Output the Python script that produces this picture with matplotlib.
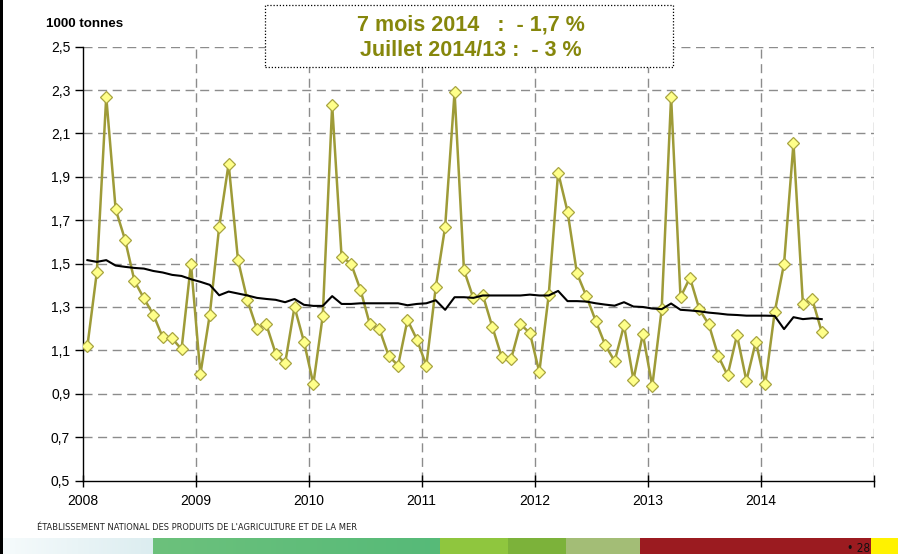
import numpy as np
import matplotlib
matplotlib.use("Agg")
import matplotlib.pyplot as plt
from matplotlib.patches import Rectangle
from matplotlib.colors import LinearSegmentedColormap

plt.rcParams['font.family'] = ['Liberation Sans', 'DejaVu Sans']

# ---- data (1000 tonnes, monthly from Jan 2008 to Jul 2014) ----
start_year = 2008
production = [1.12, 1.46, 2.27, 1.75, 1.61, 1.42, 1.34, 1.265, 1.16, 1.155, 1.105, 1.50,
              0.99, 1.265, 1.67, 1.96, 1.515, 1.33, 1.20, 1.22, 1.085, 1.04, 1.30, 1.14,
              0.945, 1.26, 2.23, 1.53, 1.50, 1.38, 1.22, 1.20, 1.075, 1.03, 1.24, 1.15,
              1.03, 1.39, 1.67, 2.29, 1.47, 1.34, 1.355, 1.21, 1.07, 1.06, 1.22, 1.18,
              1.00, 1.355, 1.92, 1.74, 1.455, 1.35, 1.235, 1.125, 1.05, 1.215, 0.965, 1.175,
              0.935, 1.29, 2.27, 1.345, 1.435, 1.29, 1.22, 1.075, 0.985, 1.17, 0.96, 1.14,
              0.945, 1.275, 1.50, 2.055, 1.315, 1.335, 1.185]
moving_avg = [1.516, 1.508, 1.516, 1.491, 1.485, 1.48, 1.477, 1.466, 1.459, 1.448, 1.443, 1.428,
              1.416, 1.402, 1.354, 1.371, 1.362, 1.353, 1.342, 1.337, 1.333, 1.322, 1.337, 1.31,
              1.305, 1.305, 1.35, 1.314, 1.314, 1.317, 1.317, 1.317, 1.317, 1.317, 1.308, 1.314,
              1.317, 1.331, 1.287, 1.345, 1.345, 1.342, 1.353, 1.353, 1.353, 1.353, 1.353, 1.357,
              1.353, 1.353, 1.374, 1.327, 1.327, 1.325, 1.317, 1.311, 1.306, 1.322, 1.302, 1.300,
              1.293, 1.29, 1.316, 1.287, 1.284, 1.28, 1.274, 1.27, 1.265, 1.263, 1.26, 1.26,
              1.26, 1.259, 1.198, 1.253, 1.244, 1.248, 1.244]
year_ticks = [2008, 2009, 2010, 2011, 2012, 2013, 2014, 2015]
year_labels = ['2008', '2009', '2010', '2011', '2012', '2013', '2014', '']
y_ticks = [0.5, 0.7, 0.9, 1.1, 1.3, 1.5, 1.7, 1.9, 2.1, 2.3, 2.5]
y_labels = ['0,5', '0,7', '0,9', '1,1', '1,3', '1,5', '1,7', '1,9', '2,1', '2,3', '2,5']
title_lines = ['7 mois 2014   :  - 1,7 %', 'Juillet 2014/13 :  - 3 %']
unit_label = '1000 tonnes'
footer_text = "ÉTABLISSEMENT NATIONAL DES PRODUITS DE L'AGRICULTURE ET DE LA MER"
page_num = '• 28'

x = start_year + (np.arange(len(production)) + 0.5) / 12.0

W, H = 898, 554
fig = plt.figure(figsize=(W / 100, H / 100), dpi=100)
fig.patch.set_facecolor('white')

ax = fig.add_axes([82.7 / W, 1 - 480.5 / H, (873.5 - 82.7) / W, (480.5 - 46.7) / H])
ax.set_xlim(2008, 2015)
ax.set_ylim(0.5, 2.5)

grid_kw = dict(color='#8c8c8c', lw=1.0, dashes=(6.5, 4), zorder=1)
for yt in y_ticks[1:]:
    ax.axhline(yt, **grid_kw)
for xt in year_ticks[1:]:
    ax.axvline(xt, **grid_kw)

ax.plot(x, production, color='#9e9b38', lw=1.8, marker='D', markersize=6.5,
        markerfacecolor='#ffff8a', markeredgecolor='#a8a440', markeredgewidth=0.9, zorder=3)
ax.plot(x, moving_avg, color='black', lw=1.5, zorder=4)

for s in ['top', 'right']:
    ax.spines[s].set_visible(False)
for s in ['left', 'bottom']:
    ax.spines[s].set_color('black')
    ax.spines[s].set_linewidth(1.0)

ax.set_yticks(y_ticks)
ax.set_yticklabels(y_labels, fontsize=10)
ax.set_xticks(year_ticks)
ax.set_xticklabels(year_labels, fontsize=10)
ax.tick_params(axis='y', direction='out', length=6, width=1, pad=3)
ax.tick_params(axis='x', direction='inout', length=8, width=1, pad=6)

# unit label
fig.text(46 / W, 1 - 24 / H, unit_label, fontsize=9.6, fontweight='bold', ha='left', va='center')

# title box
box = Rectangle((265 / W, 1 - 67 / H), (673 - 265) / W, (67 - 5) / H, transform=fig.transFigure,
                facecolor='white', edgecolor='black', lw=0.9, linestyle=(0, (1, 1.5)), zorder=10)
fig.add_artist(box)
fig.text(471 / W, 1 - 25.5 / H, title_lines[0], fontsize=15.5, fontweight='bold', color='#86870c',
         ha='center', va='center', zorder=11)
fig.text(471 / W, 1 - 50.5 / H, title_lines[1], fontsize=15.5, fontweight='bold', color='#86870c',
         ha='center', va='center', zorder=11)

# left border
fig.add_artist(Rectangle((0, 0), 3 / W, 1, transform=fig.transFigure, facecolor='black',
                         edgecolor='none', zorder=12))

# footer text
fig.text(37 / W, 1 - 527 / H, footer_text, fontsize=6.7, family='DejaVu Sans',
         fontstretch='condensed', ha='left', va='center', color='#222222')

# footer strip
strip_y = 1 - 554 / H
strip_h = (554 - 538) / H
grad_ax = fig.add_axes([3 / W, strip_y, (153 - 3) / W, strip_h])
grad_ax.imshow(np.linspace(0, 1, 100).reshape(1, -1), aspect='auto',
               cmap=LinearSegmentedColormap.from_list('g1', ['#f6fbfc', '#dcedf0']))
grad_ax.axis('off')
grad_ax2 = fig.add_axes([153 / W, strip_y, (440 - 153) / W, strip_h])
grad_ax2.imshow(np.linspace(0, 1, 100).reshape(1, -1), aspect='auto',
                cmap=LinearSegmentedColormap.from_list('g2', ['#6cc17c', '#56ba78']))
grad_ax2.axis('off')
segments = [(440, 508, '#8fc63e'), (508, 566, '#7cb23a'), (566, 640, '#a3bd76'),
            (640, 871, '#9b1b20'), (871, 898, '#fff200')]
for x0, x1, c in segments:
    fig.add_artist(Rectangle((x0 / W, strip_y), (x1 - x0) / W, strip_h, transform=fig.transFigure,
                             facecolor=c, edgecolor='none', zorder=5))
fig.text(870 / W, 1 - 548 / H, page_num, fontsize=8.5, ha='right', va='center', color='#111111',
         family='DejaVu Sans', fontstretch='condensed', zorder=13)

fig.savefig('out.png', dpi=100, facecolor='white')
